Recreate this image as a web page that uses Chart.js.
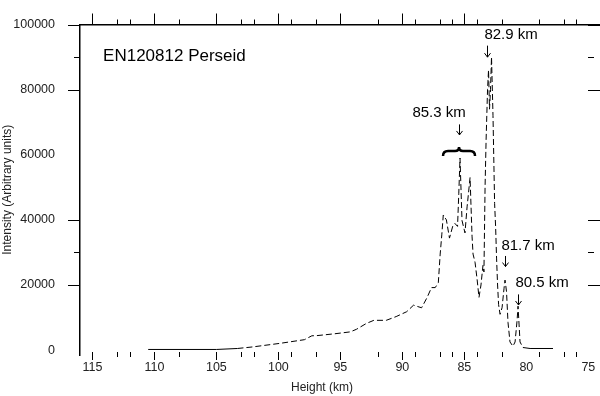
<!DOCTYPE html>
<html>
<head>
<meta charset="utf-8">
<script src="https://cdn.jsdelivr.net/npm/chart.js@4.4.1/dist/chart.umd.min.js"></script>
<style>
  html, body { margin: 0; padding: 0; background: #fff; }
  canvas { display: block; }
</style>
</head>
<body>
<canvas id="perseidChart" width="600" height="396"></canvas>
<script>
// trace: height (km) vs intensity
const heights = [110.5, 105.0, 103.3, 102.1, 99.9, 97.9, 97.3, 96.9, 95.5, 94.2, 93.7, 92.9, 92.3, 91.3,
  90.5, 89.65, 89.1, 88.45, 88.0, 87.65, 87.35, 87.1, 86.95, 86.82, 86.7, 86.45, 86.2, 85.92, 85.76,
  85.55, 85.45, 85.35, 85.19, 84.95, 84.78, 84.54, 84.38, 84.3, 84.14, 83.98, 83.82, 83.66, 83.5,
  83.42, 83.33, 83.25, 83.13, 83.05, 82.97, 82.89, 82.81, 82.69, 82.56, 82.48, 82.4, 82.32, 82.24,
  82.12, 81.96, 81.8, 81.72, 81.6, 81.48, 81.32, 81.08, 80.91, 80.75, 80.67, 80.59, 80.51, 80.27,
  79.7, 77.85];
const intensities = [200, 200, 500, 970, 2060, 3200, 4400, 4450, 5000, 5600, 6400, 8200, 9150, 9150,
  10300, 11800, 13800, 13000, 16200, 19200, 19200, 20700, 29500, 35400, 41500, 40000, 34400, 38300, 38900,
  38000, 48000, 59000, 39800, 36000, 44000, 53000, 35000, 29500, 27000, 22000, 16200, 20000, 26000,
  24000, 50000, 64000, 80000, 86000, 74000, 80000, 90000, 72000, 45000, 38000, 28000, 20000, 14000,
  11000, 13000, 19000, 21500, 18000, 8500, 2500, 1200, 2500, 9000, 13500, 8000, 2500, 800,
  500, 500];

const xTickLabels = [115, 110, 105, 100, 95, 90, 85, 80, 75];
const yTickLabels = [0, 20000, 40000, 60000, 80000, 100000];
const xMajorMarks = [115, 110, 105, 100, 95, 90, 85];
const xMinorMarks = [113, 112, 108, 103, 102, 99, 97, 92, 89, 87, 86, 84, 82, 79, 77, 76];
const yMajorMarks = [100000, 80000, 40000, 20000];
const yMinorMarks = [90000, 30000];

// annotations, anchored in data units
const notes = [
  { text: 'EN120812 Perseid', x: 114.14, y: 90265, size: 17, align: 'left' },
  { text: '82.9 km', x: 81.23, y: 96755, size: 15, align: 'center' },
  { text: '85.3 km', x: 87.04, y: 72860, size: 15, align: 'center' },
  { text: '81.7 km', x: 79.86, y: 32150, size: 15, align: 'center' },
  { text: '80.5 km', x: 78.73, y: 20650, size: 15, align: 'center' }
];
const arrows = [
  { x: 83.17, from: 93510, to: 89970 },
  { x: 85.43, from: 69320, to: 66080 },
  { x: 81.72, from: 28910, to: 25660 },
  { x: 80.67, from: 17110, to: 13860 }
];
const brace = { x: 85.43, y: 62400, from: 86.72, to: 84.14 };

const FONT = '"Liberation Sans", Arial, sans-serif';

const decorations = {
  id: 'decorations',
  afterDraw(chart) {
    const { ctx, chartArea: a } = chart;
    const xs = chart.scales.x, ys = chart.scales.y;
    const px = v => Math.round(xs.getPixelForValue(v)) + 0.5;
    const py = v => Math.round(ys.getPixelForValue(v)) + 0.5;
    ctx.save();
    ctx.strokeStyle = '#000';
    ctx.lineWidth = 1;

    // tick marks
    const base = Math.round(ys.getPixelForValue(0)) + 2;
    ctx.beginPath();
    xMajorMarks.forEach(v => {
      const p = px(v);
      ctx.moveTo(p, base); ctx.lineTo(p, base + 8);
      ctx.moveTo(p, a.top); ctx.lineTo(p, a.top - 11);
    });
    xMinorMarks.forEach(v => {
      const p = px(v);
      ctx.moveTo(p, base); ctx.lineTo(p, base + 5);
      ctx.moveTo(p, a.top); ctx.lineTo(p, a.top - 5);
    });
    yMajorMarks.forEach(v => {
      const p = py(v);
      ctx.moveTo(a.left - 12, p); ctx.lineTo(a.left, p);
      ctx.moveTo(a.right - 12, p); ctx.lineTo(a.right, p);
    });
    yMinorMarks.forEach(v => {
      const p = py(v);
      ctx.moveTo(a.left - 6, p); ctx.lineTo(a.left, p);
      ctx.moveTo(a.right - 12, p); ctx.lineTo(a.right - 6, p);
    });
    ctx.stroke();

    // arrows
    ctx.beginPath();
    arrows.forEach(r => {
      const x = px(r.x), y1 = ys.getPixelForValue(r.from), y2 = ys.getPixelForValue(r.to);
      ctx.moveTo(x, y1); ctx.lineTo(x, y2);
      ctx.moveTo(x - 3, y2 - 4); ctx.lineTo(x, y2); ctx.lineTo(x + 3, y2 - 4);
    });
    ctx.stroke();

    // curly brace over the 85.3 km peak
    const bx = xs.getPixelForValue(brace.x), by = ys.getPixelForValue(brace.y);
    const hw = Math.abs(xs.getPixelForValue(brace.from) - xs.getPixelForValue(brace.to)) / 2;
    ctx.lineWidth = 2.5;
    ctx.beginPath();
    ctx.moveTo(bx - hw, by + 9);
    ctx.quadraticCurveTo(bx - hw, by + 4, bx - hw + 5, by + 4);
    ctx.lineTo(bx - 4, by + 4);
    ctx.quadraticCurveTo(bx, by + 4, bx, by);
    ctx.quadraticCurveTo(bx, by + 4, bx + 4, by + 4);
    ctx.lineTo(bx + hw - 5, by + 4);
    ctx.quadraticCurveTo(bx + hw, by + 4, bx + hw, by + 9);
    ctx.stroke();

    // texts
    ctx.fillStyle = '#000';
    ctx.textBaseline = 'middle';
    notes.forEach(n => {
      ctx.font = n.size + 'px ' + FONT;
      ctx.textAlign = n.align;
      ctx.fillText(n.text, xs.getPixelForValue(n.x), ys.getPixelForValue(n.y));
    });
    ctx.font = '12px ' + FONT;
    ctx.fillStyle = '#222';
    ctx.textAlign = 'center';
    ctx.fillText('Height (km)', xs.getPixelForValue(96.48), 388);
    ctx.restore();
  }
};

const tickFont = { family: FONT, size: 12.5 };

const config = {
  type: 'scatter',
  data: {
    datasets: [{
      data: heights.map((h, i) => ({ x: h, y: intensities[i] })),
      showLine: true,
      borderColor: '#000',
      borderWidth: 1,
      pointRadius: 0,
      tension: 0,
      segment: {
        borderDash: c => (c.p0.parsed.x < 104.9 && c.p0.parsed.x > 80.3) ? [6, 3] : undefined
      }
    }]
  },
  options: {
    responsive: false,
    animation: false,
    devicePixelRatio: 1,
    layout: { padding: 0 },
    plugins: { legend: { display: false }, tooltip: { enabled: false } },
    scales: {
      x: {
        type: 'linear',
        position: 'bottom',
        reverse: true,
        min: 74.06,
        max: 116,
        grid: { display: false },
        border: { display: false },
        afterBuildTicks: s => { s.ticks = xTickLabels.map(v => ({ value: v })); },
        afterFit: s => { s.height = 41; },
        ticks: { padding: -3, font: tickFont, color: '#222', maxRotation: 0, autoSkip: false }
      },
      x2: {
        type: 'linear',
        position: 'top',
        reverse: true,
        min: 74.06,
        max: 116,
        grid: { display: false },
        border: { display: true, color: '#000', width: 1.5 },
        ticks: { display: false },
        afterFit: s => { s.height = 11; }
      },
      y: {
        type: 'linear',
        min: -1500,
        max: 100000,
        grid: { display: false },
        border: { display: true, color: '#000', width: 1.5 },
        afterBuildTicks: s => { s.ticks = yTickLabels.map(v => ({ value: v })); },
        afterFit: s => { s.width = 80; },
        ticks: { padding: 17, font: tickFont, color: '#222', callback: v => String(v) },
        title: {
          display: true,
          text: 'Intensity (Arbitrary units)',
          font: { family: FONT, size: 12 },
          color: '#222',
          padding: 0
        }
      }
    }
  },
  plugins: [decorations]
};

const ctx = document.getElementById('perseidChart').getContext('2d');
new Chart(ctx, config);
</script>
</body>
</html>
